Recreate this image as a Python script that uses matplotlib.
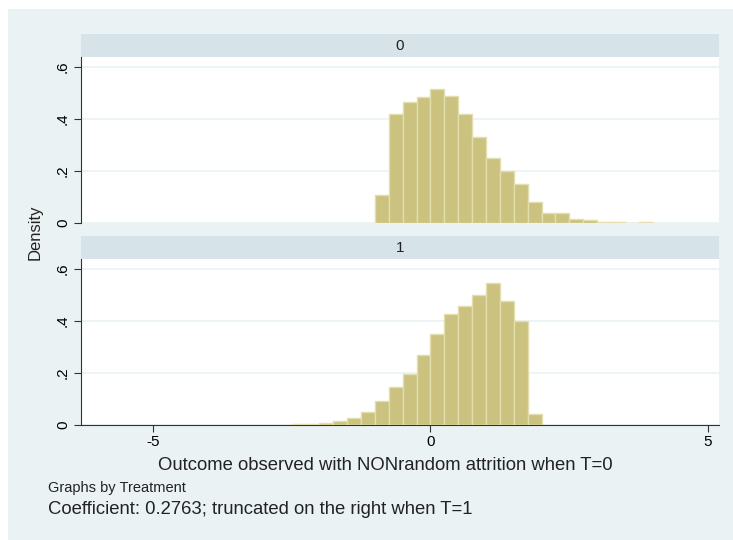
import numpy as np
import matplotlib.pyplot as plt

# histogram bins (left edges, width 0.25) and densities
bin_w = 0.25
t0_left = [-1.0, -0.75, -0.5, -0.25, 0.0, 0.25, 0.5, 0.75, 1.0, 1.25,
           1.5, 1.75, 2.0, 2.25, 2.5, 2.75, 3.0, 3.25, 3.5, 3.75]
t0_dens = [0.109, 0.419, 0.466, 0.486, 0.514, 0.490, 0.420, 0.329, 0.251, 0.200,
           0.149, 0.081, 0.038, 0.037, 0.014, 0.013, 0.005, 0.005, 0.0, 0.003]

t1_left = [-2.5, -2.25, -2.0, -1.75, -1.5, -1.25, -1.0, -0.75, -0.5, -0.25,
           0.0, 0.25, 0.5, 0.75, 1.0, 1.25, 1.5, 1.75]
t1_dens = [0.003, 0.004, 0.006, 0.014, 0.028, 0.050, 0.091, 0.146, 0.196, 0.268,
           0.349, 0.427, 0.458, 0.501, 0.545, 0.478, 0.399, 0.041]

panels = ['0', '1']
xticks = [-5, 0, 5]
yticks = [0, 0.2, 0.4, 0.6]
ytick_labels = ['0', '.2', '.4', '.6']

bg = '#EAF2F3'
strip_col = '#D6E3E8'
bar_col = '#CBC27F'
bar_edge = '#E3DEAE'

plt.rcParams['font.family'] = ['Liberation Sans', 'DejaVu Sans']

fig = plt.figure(figsize=(7.33, 5.40), dpi=100)
fig.patch.set_facecolor(bg)
# white outer margins (top and left) around the graph region
fig.patches.append(plt.Rectangle((0, 1 - 9 / 540), 1, 9 / 540, transform=fig.transFigure,
                                 facecolor='white', edgecolor='none', zorder=-10))
fig.patches.append(plt.Rectangle((0, 0), 8 / 733, 1, transform=fig.transFigure,
                                 facecolor='white', edgecolor='none', zorder=-10))

left, width, height = 81 / 733, 638 / 733, 166 / 540
strip_h = 23 / 540
bottoms = [1 - 223 / 540, 1 - 425 / 540]
data = [(t0_left, t0_dens), (t1_left, t1_dens)]

for i, (lab, b, (xl, yd)) in enumerate(zip(panels, bottoms, data)):
    sax = fig.add_axes([left, b + height, width, strip_h])
    sax.set_facecolor(strip_col)
    sax.set_xticks([]); sax.set_yticks([])
    for s in sax.spines.values():
        s.set_visible(False)
    sax.text(0.5, 0.5, lab, ha='center', va='center', fontsize=11, color='#222222')

    ax = fig.add_axes([left, b, width, height])
    ax.bar(xl, yd, width=bin_w, align='edge', color=bar_col, edgecolor=bar_edge,
           linewidth=1, zorder=3)
    ax.set_xlim(-6.297, 5.198)
    ax.set_ylim(0, 0.638)
    ax.set_yticks(yticks)
    ax.set_yticklabels(ytick_labels, rotation=90, va='center', fontsize=11)
    ax.grid(axis='y', color=bg, linewidth=1.2, zorder=0)
    ax.tick_params(axis='y', length=5, width=0.8, color='#333333', pad=3)
    for s in ['top', 'right']:
        ax.spines[s].set_visible(False)
    ax.spines['left'].set_color('#333333')
    ax.spines['left'].set_linewidth(0.8)
    if i == 0:
        ax.spines['bottom'].set_visible(False)
        ax.set_xticks([])
    else:
        ax.spines['bottom'].set_color('#333333')
        ax.spines['bottom'].set_linewidth(0.8)
        ax.set_xticks(xticks)
        ax.set_xticklabels([str(v) for v in xticks], fontsize=11)
        ax.tick_params(axis='x', length=5, width=0.8, color='#333333', pad=2)

fig.text(35 / 733, 1 - 232 / 540, 'Density', rotation=90, ha='center', va='center',
         fontsize=12, color='#222222')
fig.text(385 / 733, 1 - 466 / 540, 'Outcome observed with NONrandom attrition when T=0',
         ha='center', va='center', fontsize=13.3, color='#222222')
fig.text(48 / 733, 1 - 488 / 540, 'Graphs by Treatment', ha='left', va='center',
         fontsize=10.5, color='#222222')
fig.text(48 / 733, 1 - 510 / 540, 'Coefficient: 0.2763; truncated on the right when T=1',
         ha='left', va='center', fontsize=13.3, color='#222222')

fig.savefig('out.png', dpi=100, facecolor=fig.get_facecolor())
